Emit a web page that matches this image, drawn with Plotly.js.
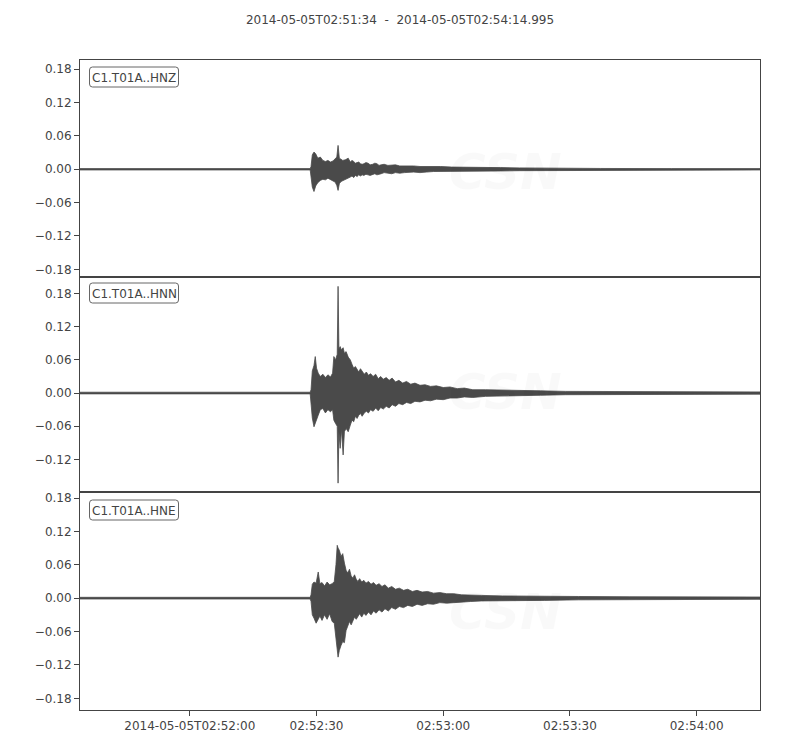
<!DOCTYPE html>
<html>
<head>
<meta charset="utf-8">
<script src="https://cdn.plot.ly/plotly-3.0.1.min.js"></script>
<style>
  body { margin: 0; background: #fff; }
  #chart { width: 800px; height: 750px; }
</style>
</head>
<body>
<div id="chart"></div>
<script>
// trace start, seconds are counted from here
var startTime = Date.UTC(2014, 4, 5, 2, 51, 34);
var titleText = '2014-05-05T02:51:34  -  2014-05-05T02:54:14.995';

var channels = ['C1.T01A..HNZ', 'C1.T01A..HNN', 'C1.T01A..HNE'];

// HNZ envelope (upper / lower)
var zT  = [0, 54.5, 54.7, 55.0, 55.4, 55.8, 56.3, 56.9, 57.5, 58.1,
           58.7, 59.3, 59.9, 60.4, 60.8, 61.1, 61.4, 61.8, 62.2, 62.8,
           63.5, 64.0, 64.4, 64.8, 65.2, 65.6, 66.0, 66.4, 66.8, 67.2,
           67.7, 68.2, 68.7, 69.3, 69.8, 70.3, 70.8, 71.3, 72.0, 72.9,
           73.8, 74.7, 75.7, 76.8, 77.9, 79.0, 80.5, 82.0, 83.7, 85.4,
           88.0, 90.8, 95.0, 99.6, 104.0, 109.1, 115.0, 123.3, 140.0, 161.0];
var zUp = [0.0012, 0.0012, 0.005, 0.026, 0.031, 0.028, 0.020, 0.022, 0.016, 0.014,
           0.016, 0.013, 0.015, 0.018, 0.022, 0.043, 0.020, 0.018, 0.016, 0.017,
           0.020, 0.013, 0.016, 0.014, 0.011, 0.012, 0.013, 0.010, 0.009, 0.010,
           0.012, 0.011, 0.008, 0.009, 0.011, 0.010, 0.007, 0.008, 0.009, 0.007,
           0.008, 0.008, 0.006, 0.006, 0.007, 0.006, 0.005, 0.005, 0.006, 0.005,
           0.004, 0.004, 0.003, 0.003, 0.0025, 0.002, 0.0015, 0.0015, 0.0012, 0.0012];
var zLo = [-0.0012, -0.0012, -0.005, -0.032, -0.040, -0.030, -0.024, -0.020, -0.018, -0.019,
           -0.016, -0.018, -0.021, -0.023, -0.029, -0.038, -0.026, -0.022, -0.020, -0.018,
           -0.016, -0.014, -0.012, -0.015, -0.011, -0.013, -0.010, -0.012, -0.010, -0.011,
           -0.009, -0.010, -0.011, -0.009, -0.008, -0.010, -0.009, -0.008, -0.006, -0.007,
           -0.008, -0.006, -0.007, -0.006, -0.005, -0.005, -0.006, -0.005, -0.004, -0.004,
           -0.004, -0.0035, -0.003, -0.003, -0.0025, -0.002, -0.0015, -0.0015, -0.0012, -0.0012];

// HNN envelope
var nT  = [0, 54.5, 54.7, 55.0, 55.4, 55.7, 56.0, 56.4, 56.9, 57.5,
           58.1, 58.7, 59.3, 59.8, 60.1, 60.5, 60.9, 61.1, 61.3, 61.6,
           61.9, 62.3, 62.6, 63.0, 63.5, 64.0, 64.4, 64.8, 65.2, 65.6,
           66.0, 66.4, 66.8, 67.3, 67.8, 68.3, 68.8, 69.4, 70.0, 70.6,
           71.2, 71.8, 72.5, 73.2, 73.9, 74.7, 75.5, 76.4, 77.3, 78.3,
           79.3, 80.5, 81.7, 83.0, 84.4, 86.0, 87.6, 89.3, 91.0, 93.0,
           96.0, 100.0, 104.0, 109.0, 115.0, 125.0, 140.0, 161.0];
var nUp = [0.0015, 0.0015, 0.006, 0.040, 0.050, 0.066, 0.045, 0.036, 0.030, 0.034,
           0.028, 0.033, 0.029, 0.036, 0.066, 0.060, 0.070, 0.193, 0.080, 0.084,
           0.078, 0.082, 0.072, 0.075, 0.065, 0.060, 0.052, 0.045, 0.048, 0.042,
           0.038, 0.044, 0.040, 0.034, 0.038, 0.032, 0.035, 0.030, 0.034, 0.026,
           0.030, 0.025, 0.028, 0.023, 0.027, 0.020, 0.023, 0.018, 0.021, 0.016,
           0.018, 0.014, 0.015, 0.012, 0.013, 0.010, 0.011, 0.008, 0.009, 0.006,
           0.006, 0.005, 0.004, 0.004, 0.003, 0.0025, 0.002, 0.002];
var nLo = [-0.0015, -0.0015, -0.006, -0.045, -0.061, -0.055, -0.050, -0.040, -0.030, -0.028,
           -0.036, -0.030, -0.034, -0.030, -0.049, -0.055, -0.060, -0.163, -0.070, -0.100,
           -0.065, -0.112, -0.070, -0.064, -0.070, -0.058, -0.049, -0.052, -0.042, -0.046,
           -0.040, -0.037, -0.042, -0.036, -0.033, -0.036, -0.030, -0.033, -0.027, -0.032,
           -0.026, -0.029, -0.024, -0.027, -0.021, -0.024, -0.019, -0.021, -0.017, -0.019,
           -0.015, -0.016, -0.013, -0.014, -0.011, -0.012, -0.009, -0.009, -0.007, -0.008,
           -0.006, -0.005, -0.005, -0.004, -0.003, -0.0025, -0.002, -0.002];

// HNE envelope
var eT  = [0, 54.5, 54.7, 55.0, 55.4, 55.9, 56.4, 56.8, 57.3, 57.9,
           58.5, 59.1, 59.7, 60.2, 60.6, 60.9, 61.1, 61.4, 61.8, 62.2,
           62.6, 63.0, 63.4, 63.8, 64.2, 64.6, 65.0, 65.4, 65.8, 66.2,
           66.7, 67.2, 67.7, 68.3, 68.9, 69.5, 70.1, 70.8, 71.5, 72.2,
           73.0, 73.8, 74.7, 75.6, 76.6, 77.6, 78.7, 79.8, 81.0, 82.3,
           83.7, 85.2, 86.8, 88.5, 90.3, 92.5, 95.0, 100.0, 105.0, 110.0,
           118.0, 130.0, 145.0, 161.0];
var eUp = [0.0015, 0.0015, 0.006, 0.025, 0.029, 0.027, 0.047, 0.026, 0.028, 0.022,
           0.029, 0.024, 0.026, 0.030, 0.060, 0.095, 0.090, 0.086, 0.075, 0.080,
           0.063, 0.050, 0.045, 0.052, 0.040, 0.036, 0.042, 0.034, 0.030, 0.035,
           0.029, 0.032, 0.027, 0.030, 0.025, 0.028, 0.023, 0.026, 0.021, 0.024,
           0.018, 0.021, 0.016, 0.018, 0.014, 0.016, 0.012, 0.014, 0.011, 0.012,
           0.009, 0.010, 0.008, 0.008, 0.006, 0.006, 0.005, 0.004, 0.004, 0.003,
           0.003, 0.0025, 0.002, 0.002];
var eLo = [-0.0015, -0.0015, -0.006, -0.030, -0.036, -0.045, -0.038, -0.032, -0.040, -0.030,
           -0.038, -0.028, -0.042, -0.045, -0.070, -0.090, -0.106, -0.094, -0.085, -0.078,
           -0.080, -0.058, -0.050, -0.042, -0.048, -0.040, -0.034, -0.038, -0.032, -0.028,
           -0.034, -0.027, -0.031, -0.025, -0.030, -0.023, -0.027, -0.021, -0.025, -0.019,
           -0.023, -0.017, -0.020, -0.015, -0.017, -0.013, -0.015, -0.011, -0.013, -0.010,
           -0.011, -0.008, -0.009, -0.007, -0.007, -0.006, -0.005, -0.005, -0.004, -0.004,
           -0.003, -0.0025, -0.002, -0.002];

var yTickVals = [-0.18, -0.12, -0.06, 0, 0.06, 0.12, 0.18];
var yTickText = ['\u22120.18', '\u22120.12', '\u22120.06', '0.00', '0.06', '0.12', '0.18'];
var xTickVals = ['2014-05-05 02:52:00', '2014-05-05 02:52:30', '2014-05-05 02:53:00', '2014-05-05 02:53:30', '2014-05-05 02:54:00'];
var xTickText = ['2014-05-05T02:52:00', '02:52:30', '02:53:00', '02:53:30', '02:54:00'];

function toDate(s) {
  return new Date(startTime + Math.round(s * 1000)).toISOString().replace('T', ' ').replace('Z', '');
}

// closed polygon: upper edge forward, lower edge back
function envelope(t, up, lo, n) {
  var xs = t.map(toDate);
  return {
    x: xs.concat(xs.slice().reverse()),
    y: up.concat(lo.slice().reverse()),
    xaxis: 'x' + (n == 1 ? '' : n),
    yaxis: 'y' + (n == 1 ? '' : n),
    type: 'scatter',
    mode: 'lines',
    fill: 'toself',
    fillcolor: '#4a4a4a',
    line: { color: '#4a4a4a', width: 0.8 },
    hoverinfo: 'skip',
    showlegend: false
  };
}

var data = [
  envelope(zT, zUp, zLo, 1),
  envelope(nT, nUp, nLo, 2),
  envelope(eT, eUp, eLo, 3)
];

var font = { family: 'DejaVu Sans, sans-serif', size: 12, color: '#444' };
var xRange = ['2014-05-05 02:51:34', '2014-05-05 02:54:14.995'];

function xAxis(showLabels) {
  return {
    type: 'date',
    range: xRange,
    tickvals: xTickVals,
    ticktext: xTickText,
    showticklabels: showLabels,
    ticks: showLabels ? 'outside' : '',
    ticklen: 5,
    tickcolor: '#444',
    showgrid: false,
    zeroline: false,
    showline: true,
    mirror: true,
    linecolor: '#444',
    linewidth: 1,
    tickfont: font
  };
}

function yAxis(domain, range) {
  return {
    domain: domain,
    range: range,
    tickvals: yTickVals,
    ticktext: yTickText,
    ticks: 'outside',
    ticklen: 5,
    tickcolor: '#444',
    showgrid: false,
    zeroline: false,
    showline: true,
    mirror: true,
    linecolor: '#444',
    linewidth: 1,
    tickfont: font
  };
}

// plot area in pixels, used to place the label boxes
var plotL = 80, plotW = 680, plotT = 60, plotH = 650;
function px(x) { return (x - plotL) / plotW; }
function py(y) { return 1 - (y - plotT) / plotH; }

function roundBox(x0, y0, x1, y1, r) {
  var p = [
    'M', px(x0 + r), py(y0),
    'L', px(x1 - r), py(y0),
    'Q', px(x1), py(y0), px(x1), py(y0 + r),
    'L', px(x1), py(y1 - r),
    'Q', px(x1), py(y1), px(x1 - r), py(y1),
    'L', px(x0 + r), py(y1),
    'Q', px(x0), py(y1), px(x0), py(y1 - r),
    'L', px(x0), py(y0 + r),
    'Q', px(x0), py(y0), px(x0 + r), py(y0), 'Z'
  ];
  return {
    type: 'path', xref: 'paper', yref: 'paper', layer: 'above',
    path: p.join(' '),
    fillcolor: '#fff',
    line: { color: '#666', width: 1 }
  };
}

var shapes = [];
var annotations = [];
var boxTop = [67, 283, 500];
channels.forEach(function (name, i) {
  shapes.push(roundBox(89.5, boxTop[i], 178.5, boxTop[i] + 20, 3));
  annotations.push({
    xref: 'paper', yref: 'paper',
    x: px(134), y: py(boxTop[i] + 10.5),
    xanchor: 'center', yanchor: 'middle',
    text: name,
    showarrow: false,
    font: font
  });
});

// faint CSN watermark in each panel
var wmCsnY = [0.8277, 0.4892, 0.1508];
var wmTxtY = [0.7508, 0.4123, 0.0738];
var wmColor = 'rgba(0,0,0,0.025)';
for (var i = 0; i < 3; i++) {
  annotations.push({
    xref: 'paper', yref: 'paper', x: 0.625, y: wmCsnY[i],
    xanchor: 'center', yanchor: 'middle', showarrow: false,
    text: '<b><i>CSN</i></b>',
    font: { family: 'DejaVu Sans, sans-serif', size: 50, color: wmColor }
  });
  annotations.push({
    xref: 'paper', yref: 'paper', x: 0.6647, y: wmTxtY[i],
    xanchor: 'left', yanchor: 'middle', showarrow: false,
    align: 'left',
    text: '<i>CENTRO SISMOLÓGICO NACIONAL</i><br><i>UNIVERSIDAD DE CHILE</i>',
    font: { family: 'DejaVu Sans Condensed, DejaVu Sans, sans-serif', size: 13, color: wmColor }
  });
}

var layout = {
  width: 800,
  height: 750,
  margin: { l: 80, r: 40, t: 60, b: 40 },
  paper_bgcolor: '#fff',
  plot_bgcolor: '#fff',
  font: font,
  title: {
    text: titleText,
    x: 0.5, xanchor: 'center',
    y: 0.973, yanchor: 'middle',
    font: font
  },
  xaxis: xAxis(false),
  xaxis2: xAxis(false),
  xaxis3: xAxis(true),
  yaxis: yAxis([0.6662, 1], [-0.1938, 0.1967]),
  yaxis2: yAxis([0.3354, 0.6662], [-0.179, 0.210]),
  yaxis3: yAxis([0, 0.3354], [-0.201, 0.1908]),
  shapes: shapes,
  annotations: annotations
};
layout.xaxis.anchor = 'y';
layout.xaxis2.anchor = 'y2';
layout.xaxis3.anchor = 'y3';
layout.yaxis.anchor = 'x';
layout.yaxis2.anchor = 'x2';
layout.yaxis3.anchor = 'x3';

Plotly.newPlot('chart', data, layout, { displayModeBar: false, staticPlot: true });
</script>
</body>
</html>
